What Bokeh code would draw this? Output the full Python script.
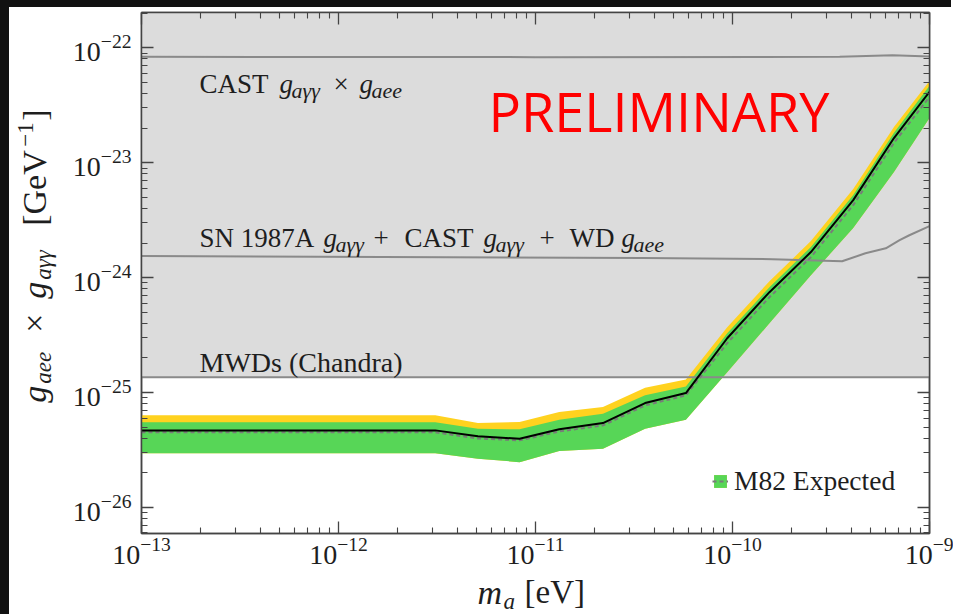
from math import pi
from bokeh.plotting import figure
from bokeh.layouts import row, column
from bokeh.models import (Range1d, LogAxis, FixedTicker, Label, Legend, LegendItem,
                          CustomJSTickFormatter, Div)
from bokeh.embed import file_html
from bokeh.resources import INLINE

# ---------------- data ----------------
mass = [1.0e-13, 3.1e-12, 5.1e-12, 8.3e-12, 1.32e-11, 2.2e-11, 3.6e-11, 5.8e-11,
        9.4e-11, 1.54e-10, 2.5e-10, 4.1e-10, 6.6e-10, 1.0e-9]
limit_line = [4.69e-26, 4.69e-26, 4.16e-26, 3.97e-26, 4.79e-26, 5.43e-26, 8.11e-26, 9.91e-26,
              2.97e-25, 7.48e-25, 1.67e-24, 4.73e-24, 1.64e-23, 4.14e-23]
expected_median = [4.51e-26, 4.51e-26, 3.99e-26, 3.84e-26, 4.59e-26, 5.18e-26, 7.74e-26, 9.46e-26,
                   2.69e-25, 6.76e-25, 1.51e-24, 4.28e-24, 1.49e-23, 3.74e-23]
band_2sigma_up = [6.34e-26, 6.34e-26, 5.43e-26, 5.54e-26, 6.77e-26, 7.49e-26, 1.10e-25, 1.30e-25,
                  3.71e-25, 9.31e-25, 2.08e-24, 5.90e-24, 2.05e-23, 5.15e-23]
band_1sigma_up = [5.51e-26, 5.51e-26, 4.85e-26, 4.79e-26, 5.81e-26, 6.55e-26, 9.46e-26, 1.13e-25,
                  3.28e-25, 8.26e-25, 1.85e-24, 5.24e-24, 1.82e-23, 4.67e-23]
band_low = [2.96e-26, 2.96e-26, 2.66e-26, 2.48e-26, 3.10e-26, 3.25e-26, 4.85e-26, 5.81e-26,
            1.50e-25, 4.01e-25, 1.05e-24, 2.70e-24, 8.30e-24, 2.45e-23]

cast_m = [1.0e-13, 1.0e-11, 3.5e-10, 6.5e-10, 1.0e-9]
cast_g = [8.35e-23, 8.30e-23, 8.35e-23, 8.60e-23, 8.40e-23]

sn_m = [1.0e-13, 3.5e-11, 1.6e-10, 3.6e-10, 4.73e-10, 6.0e-10, 7.05e-10, 7.9e-10, 1.0e-9]
sn_g = [1.54e-24, 1.48e-24, 1.45e-24, 1.39e-24, 1.63e-24, 1.80e-24, 2.12e-24, 2.34e-24, 2.81e-24]

mwd_m = [1.0e-13, 1.0e-9]
mwd_g = [1.36e-25, 1.36e-25]

x_major = [1e-13, 1e-12, 1e-11, 1e-10, 1e-9]
y_major = [1e-26, 1e-25, 1e-24, 1e-23, 1e-22]

# ---------------- layout constants ----------------
X_RANGE = (1e-13, 1e-9)
Y_RANGE = (5.94e-27, 2.03e-22)
TOP = 1e-21

SERIF = "Liberation Serif"
AX_COLOR = "#444444"
TXT = "#1e1e1e"
BLACK_BAR = "#111111"

LEFT_BAR_W = 9
TOP_BAR_H = 7
YLAB_W = 60
P_BORDER_L, P_BORDER_R, P_BORDER_T, P_BORDER_B = 70, 24, 5, 40
FRAME_W, FRAME_H = 788, 521
P_W = P_BORDER_L + FRAME_W + P_BORDER_R
P_H = P_BORDER_T + FRAME_H + P_BORDER_B
XLAB_H = 41
INNER_W = YLAB_W + P_W

# baseline compensation factor for Label text (fraction of font size)
BASE_SERIF = 0.337
BASE_SANS = 0.41

p = figure(frame_width=FRAME_W, frame_height=FRAME_H, x_axis_type="log", y_axis_type="log",
           x_range=Range1d(*X_RANGE), y_range=Range1d(*Y_RANGE),
           output_backend="svg", toolbar_location=None,
           min_border_left=P_BORDER_L, min_border_right=P_BORDER_R,
           min_border_top=P_BORDER_T, min_border_bottom=P_BORDER_B)
p.background_fill_color = "white"
p.border_fill_color = "white"
p.outline_line_color = AX_COLOR
p.outline_line_width = 1.5
p.xgrid.visible = False
p.ygrid.visible = False

x_minor = [m * d for d in x_major[:-1] for m in range(2, 10)]
y_minor = [m * d for d in [1e-27] + y_major for m in range(2, 10)]


def style_axis(ax, labels=True):
    ax.axis_line_color = AX_COLOR
    ax.axis_line_width = 1.5
    ax.major_tick_line_color = AX_COLOR
    ax.minor_tick_line_color = AX_COLOR
    ax.major_tick_line_width = 1.3
    ax.minor_tick_line_width = 1.1
    ax.major_tick_in = 12
    ax.major_tick_out = 0
    ax.minor_tick_in = 6
    ax.minor_tick_out = 0
    if labels:
        ax.major_label_text_font = SERIF
        ax.major_label_text_font_size = "28px"
        ax.major_label_text_color = TXT
    else:
        ax.formatter = CustomJSTickFormatter(code="return ''")
        ax.major_label_text_font_size = "1px"
        ax.major_label_standoff = 0


xa = p.xaxis[0]
ya = p.yaxis[0]
xa.ticker = FixedTicker(ticks=x_major, minor_ticks=x_minor)
ya.ticker = FixedTicker(ticks=y_major, minor_ticks=y_minor)
style_axis(xa)
style_axis(ya)
xa.major_label_standoff = 4
ya.major_label_standoff = 10

top_ax = LogAxis(ticker=FixedTicker(ticks=x_major, minor_ticks=x_minor))
right_ax = LogAxis(ticker=FixedTicker(ticks=y_major, minor_ticks=y_minor))
style_axis(top_ax, labels=False)
style_axis(right_ax, labels=False)
p.add_layout(top_ax, "above")
p.add_layout(right_ax, "right")

# ---------------- excluded regions ----------------
GREY_FILL = "#dcdcdc"
GREY_LINE = "#8a8a8a"
p.varea(x=cast_m, y1=cast_g, y2=[TOP] * len(cast_m), fill_color=GREY_FILL)
p.varea(x=sn_m, y1=sn_g, y2=[TOP] * len(sn_m), fill_color=GREY_FILL)
p.varea(x=mwd_m, y1=mwd_g, y2=[TOP] * len(mwd_m), fill_color=GREY_FILL)

# ---------------- expected band ----------------
r_yellow = p.varea(x=mass, y1=band_low, y2=band_2sigma_up, fill_color="#ffd21f")
r_green = p.varea(x=mass, y1=band_low, y2=band_1sigma_up, fill_color="#57d657")

p.line(cast_m, cast_g, line_color=GREY_LINE, line_width=2)
p.line(sn_m, sn_g, line_color=GREY_LINE, line_width=2)
p.line(mwd_m, mwd_g, line_color=GREY_LINE, line_width=2)

r_dash = p.line(mass, expected_median, line_color="#7a7a7a", line_width=2, line_dash="4 3")
p.line(mass, limit_line, line_color="black", line_width=2)


# ---------------- texts ----------------
def add_pieces(fig, x, y, pieces, rotated=False, font=SERIF, color=TXT, base=BASE_SERIF):
    """pieces: (text, along, shift, size, style); shift > 0 lowers (subscript)."""
    for txt, along, shift, size, style in pieces:
        comp = base * size
        if rotated:
            dx, dy, ang = shift - comp, along, pi / 2
        else:
            dx, dy, ang = along, comp - shift, 0.0
        fig.add_layout(Label(x=x, y=y, text=txt, x_offset=dx, y_offset=dy, angle=ang,
                             text_font=font, text_font_size=f"{size}px", text_font_style=style,
                             text_color=color, text_align="left", text_baseline="alphabetic"))


FS = 27
SUB = 22
add_pieces(p, 1.97e-13, 4.06e-23, [
    ("CAST", 0, 0, FS, "normal"),
    ("g", 80, 0, FS, "italic"),
    ("aγγ", 92, 5, SUB, "italic"),
    ("×", 134, 0, FS, "normal"),
    ("g", 160, 0, FS, "italic"),
    ("aee", 172, 5, SUB, "italic"),
])
add_pieces(p, 1.97e-13, 1.85e-24, [
    ("SN 1987A", 0, 0, FS, "normal"),
    ("g", 124, 0, FS, "italic"),
    ("aγγ", 136, 5, SUB, "italic"),
    ("+", 174, 0, FS, "normal"),
    ("CAST", 205, 0, FS, "normal"),
    ("g", 284, 0, FS, "italic"),
    ("aγγ", 296, 5, SUB, "italic"),
    ("+", 340, 0, FS, "normal"),
    ("WD", 370, 0, FS, "normal"),
    ("g", 422, 0, FS, "italic"),
    ("aee", 434, 5, SUB, "italic"),
])
add_pieces(p, 1.97e-13, 1.51e-25, [("MWDs (Chandra)", 0, 0, 28, "normal")])

# PRELIMINARY stamp
add_pieces(p, 5.77e-12, 1.82e-23, [("PRELIMINARY", 0, 0, 54, "normal")],
           font="Open Sans", color="#ff0000", base=BASE_SANS)

# legend
legend = Legend(items=[LegendItem(label="M82 Expected", renderers=[r_yellow, r_green, r_dash])],
                location=(571, 36), padding=0, margin=0, spacing=0,
                glyph_width=16, glyph_height=16, label_standoff=6,
                label_text_font=SERIF, label_text_font_size="27.5px", label_text_color=TXT,
                background_fill_alpha=0, border_line_alpha=0)
p.add_layout(legend)


# ---------------- axis-label strips (pixel coordinate figures) ----------------
def blank_fig(w, h):
    f = figure(width=w, height=h, x_range=Range1d(0, w), y_range=Range1d(0, h),
               output_backend="svg", toolbar_location=None,
               x_axis_location=None, y_axis_location=None, min_border=0)
    f.xgrid.visible = False
    f.ygrid.visible = False
    f.outline_line_color = None
    f.background_fill_color = "white"
    f.border_fill_color = "white"
    return f


AXF = 34
AXS = 23
ylab = blank_fig(YLAB_W, P_H)
add_pieces(ylab, 45 - LEFT_BAR_W, (TOP_BAR_H + P_H) - 431, [
    ("g", 0, 0, AXF, "italic"),
    ("aee", 19, 6, AXS, "italic"),
    ("×", 70, 0, AXF, "normal"),
    ("g", 104, 0, AXF, "italic"),
    ("aγγ", 123, 6, AXS, "italic"),
    ("[GeV", 177, 0, AXF, "normal"),
    ("−1", 256, -12, AXS, "normal"),
    ("]", 282, 0, AXF, "normal"),
], rotated=True)

xlab = blank_fig(INNER_W, XLAB_H)
add_pieces(xlab, 477 - LEFT_BAR_W, (TOP_BAR_H + P_H + XLAB_H) - 603, [
    ("m", 0, 0, AXF, "italic"),
    ("a", 26, 6, AXS, "italic"),
    ("[eV]", 47, 0, 33, "normal"),
])

left_bar = Div(width=LEFT_BAR_W, height=TOP_BAR_H + P_H + XLAB_H, margin=0,
               styles={"background-color": BLACK_BAR})
top_bar = Div(width=INNER_W, height=TOP_BAR_H, margin=0,
              styles={"background-color": BLACK_BAR})

layout = row(left_bar, column(top_bar, row(ylab, p, spacing=0), xlab, spacing=0), spacing=0)

open("out.html", "w").write(file_html(layout, INLINE))
